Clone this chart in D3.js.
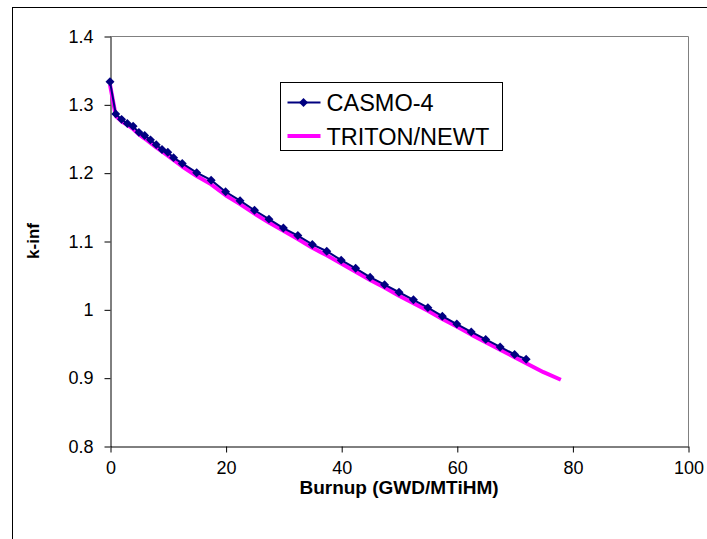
<!DOCTYPE html>
<html>
<head>
<meta charset="utf-8">
<script src="https://cdn.jsdelivr.net/npm/d3@7"></script>
<style>
  html, body { margin: 0; padding: 0; background: #fff; }
  svg { display: block; font-family: Arial, "Liberation Sans", sans-serif; }
</style>
</head>
<body>
<script>
// CASMO-4 burnup points and k-inf values
const casmoBurnup = [0, 1, 2, 3, 4, 5, 6, 7, 8, 9, 10, 11, 12.5, 15, 17.5, 20, 22.5, 25, 27.5, 30,
    32.5, 35, 37.5, 40, 42.5, 45, 47.5, 50, 52.5, 55, 57.5, 60, 62.5, 65, 67.5, 70, 72];
const casmoK = [1.333, 1.286, 1.278, 1.272, 1.268, 1.259, 1.2545, 1.248, 1.241, 1.234, 1.230, 1.222, 1.2135,
    1.200, 1.189, 1.172, 1.159, 1.145, 1.132, 1.119, 1.108, 1.095, 1.085, 1.072, 1.060, 1.047, 1.036,
    1.025, 1.014, 1.0025, 0.990, 0.9785, 0.967, 0.956, 0.945, 0.934, 0.927];

// TRITON/NEWT
const tritonBurnup = [0, 1, 2, 3, 4, 5, 6, 8, 10, 12.5, 15, 17.5, 20, 22.5, 25, 27.5, 30, 32.5, 35,
    37.5, 40, 42.5, 45, 47.5, 50, 52.5, 55, 57.5, 60, 62.5, 65, 67.5, 70, 72.5, 75, 78];
const tritonK = [1.329, 1.283, 1.275, 1.270, 1.264, 1.256, 1.250, 1.237, 1.225, 1.209, 1.195, 1.183,
    1.167, 1.154, 1.140, 1.127, 1.115, 1.103, 1.090, 1.079, 1.067, 1.055, 1.043, 1.032, 1.020, 1.009,
    0.998, 0.986, 0.975, 0.963, 0.952, 0.941, 0.930, 0.919, 0.908, 0.897];

const xTicks = [0, 20, 40, 60, 80, 100];
const yTicks = [0.8, 0.9, 1.0, 1.1, 1.2, 1.3, 1.4];
const seriesNames = ["CASMO-4", "TRITON/NEWT"];

const width = 707, height = 539;
const plot = { left: 110, top: 36, right: 688, bottom: 446 };

const svg = d3.select("body").append("svg")
    .attr("width", width)
    .attr("height", height);

// outer chart frame (cut off at right and bottom)
svg.append("rect")
    .attr("x", 12.5).attr("y", 7.5)
    .attr("width", 720).attr("height", 560)
    .attr("fill", "#fff")
    .attr("stroke", "#000")
    .attr("stroke-width", 1);

const x = d3.scaleLinear().domain([0, 100]).range([plot.left, plot.right]);
const y = d3.scaleLinear().domain([0.8, 1.4]).range([plot.bottom, plot.top]);

// plot area border (grey top/right)
svg.append("path")
    .attr("d", `M${plot.left},${plot.top + 0.5}H${plot.right + 0.5}V${plot.bottom}`)
    .attr("fill", "none")
    .attr("stroke", "#808080")
    .attr("stroke-width", 1);

const fmtY = d => (d === 1 ? "1" : d3.format(".1f")(d));

const yAxis = svg.append("g")
    .attr("transform", `translate(${plot.left + 0.5},0.5)`)
    .call(d3.axisLeft(y).tickValues(yTicks).tickFormat(fmtY).tickSize(6).tickSizeOuter(0).tickPadding(11));

const xAxis = svg.append("g")
    .attr("transform", `translate(0.5,${plot.bottom + 0.5})`)
    .call(d3.axisBottom(x).tickValues(xTicks).tickFormat(d3.format("d")).tickSize(6).tickSizeOuter(0).tickPadding(9));

[xAxis, yAxis].forEach(g => {
    g.select(".domain").attr("stroke", "#000");
    g.selectAll(".tick line").attr("stroke", "#000");
    g.selectAll(".tick text")
        .attr("fill", "#000")
        .style("font-size", "18px")
        .style("font-family", "Arial, 'Liberation Sans', sans-serif");
});

// axis titles
svg.append("text")
    .attr("x", (plot.left + plot.right) / 2)
    .attr("y", 494)
    .attr("text-anchor", "middle")
    .style("font-size", "19px")
    .style("font-weight", "bold")
    .text("Burnup (GWD/MTiHM)");

svg.append("text")
    .attr("transform", `translate(39,${(plot.top + plot.bottom) / 2}) rotate(-90)`)
    .attr("text-anchor", "middle")
    .style("font-size", "17px")
    .style("font-weight", "bold")
    .text("k-inf");

// series
const triton = tritonBurnup.map((b, i) => ({ b: b, k: tritonK[i] }));
const casmo = casmoBurnup.map((b, i) => ({ b: b, k: casmoK[i] }));

const line = d3.line()
    .x(d => x(d.b))
    .y(d => y(d.k));

svg.append("path")
    .datum(triton)
    .attr("fill", "none")
    .attr("stroke", "#ff00ff")
    .attr("stroke-width", 4)
    .attr("stroke-linejoin", "round")
    .attr("d", line);

svg.append("path")
    .datum(casmo)
    .attr("fill", "none")
    .attr("stroke", "#000080")
    .attr("stroke-width", 2)
    .attr("d", line);

const diamond = d3.symbol().type(d3.symbolSquare).size(40);

svg.selectAll(".casmo-pt")
    .data(casmo)
    .enter()
    .append("path")
    .attr("class", "casmo-pt")
    .attr("d", diamond)
    .attr("transform", d => `translate(${x(d.b)},${y(d.k)}) rotate(45)`)
    .attr("fill", "#000080");

// legend
const legend = svg.append("g").attr("transform", "translate(280.5,82.5)");
legend.append("rect")
    .attr("width", 222).attr("height", 68)
    .attr("fill", "#fff")
    .attr("stroke", "#000")
    .attr("stroke-width", 1);

const legendRows = [
    { name: seriesNames[0], color: "#000080", w: 2, marker: true, yy: 20 },
    { name: seriesNames[1], color: "#ff00ff", w: 4, marker: false, yy: 53.5 }
];

legendRows.forEach(r => {
    legend.append("line")
        .attr("x1", 7).attr("x2", 40)
        .attr("y1", r.yy).attr("y2", r.yy)
        .attr("stroke", r.color)
        .attr("stroke-width", r.w);
    if (r.marker) {
        legend.append("path")
            .attr("d", diamond)
            .attr("transform", `translate(23,${r.yy}) rotate(45)`)
            .attr("fill", r.color);
    }
    legend.append("text")
        .attr("x", 46)
        .attr("y", r.yy + 8.5)
        .style("font-size", "23.5px")
        .text(r.name);
});
</script>
</body>
</html>
